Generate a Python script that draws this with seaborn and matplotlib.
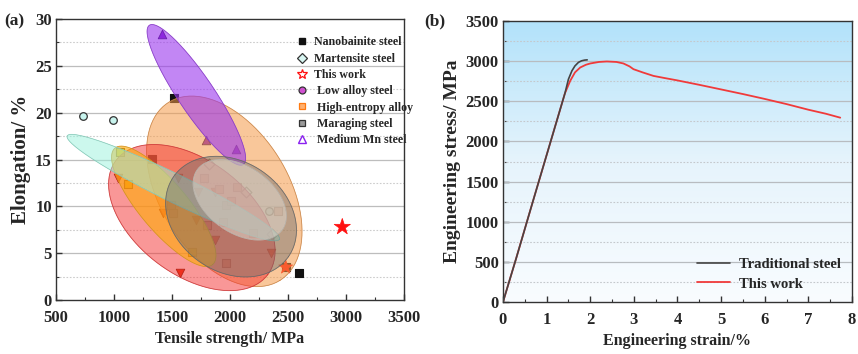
import numpy as np
import pandas as pd
import matplotlib
matplotlib.use("Agg")
import matplotlib.pyplot as plt
import seaborn as sns
from matplotlib.ticker import MultipleLocator
from matplotlib.lines import Line2D
from matplotlib.colors import LinearSegmentedColormap

sns.set_theme(style="white")
plt.rcParams['font.family'] = ['Liberation Serif', 'DejaVu Serif']
plt.rcParams['font.weight'] = 'bold'

# ---------------- data: panel (a) ----------------
nano_x = [1520, 1325, 2595, 2480]
nano_y = [21.6, 15.1, 2.9, 3.5]
mart_x = [1822, 2135, 2365]
mart_y = [14.5, 11.5, 7.0]
circ_x = [735, 989, 2339]
circ_y = [19.6, 19.2, 9.5]
hea_x = [1052, 1118, 1670]
hea_y = [15.8, 12.4, 5.1]
tri_x = [1032, 1569, 1425, 1707, 1871, 2356, 1549, 1727, 1871]
tri_y = [13.0, 2.9, 9.3, 8.5, 6.4, 5.0, 13.0, 11.5, 11.5]
mar_x = [1511, 1494, 1799, 1942, 1963, 2006, 1776, 1905, 2058, 2196, 2411, 1963]
mar_y = [9.3, 10.1, 8.0, 8.3, 10.1, 10.6, 13.0, 11.8, 12.1, 7.1, 9.5, 4.0]
mn_x = [1411, 1791, 2049]
mn_y = [28.4, 17.1, 16.1]
work_x = [2968, 2480]
work_y = [7.8, 3.5]

legend_labels = ["Nanobainite steel", "Martensite steel", "This work", " Low alloy steel",
                 " High-entropy alloy", " Maraging steel", " Medium Mn steel"]

# ellipses: centre (MPa, %), semi-axes (px), angle (deg, downward), colour, alpha
ell_cx = [1951, 1671, 1429, 1511, 1710, 2009, 2084]
ell_cy = [11.6, 8.8, 10.0, 12.0, 21.9, 8.9, 10.7]
ell_a = [105, 95, 76, 118, 84, 70, 52]
ell_b = [64, 57, 24, 14, 18, 55, 33]
ell_ang = [58, 37, 50, 26, 56, 35, 35]
ell_col = ['#f59a48', '#f53030', '#ffab10', '#9af2dc', '#9a35ee', '#6e6e6e', '#ddd6cc']
ell_alpha = [0.55, 0.5, 0.65, 0.5, 0.6, 0.45, 0.55]

# ---------------- data: panel (b) ----------------
trad_strain = [0.0, 0.3, 0.7, 1.0, 1.3, 1.42, 1.5, 1.58, 1.65, 1.73, 1.8, 1.87, 1.93]
trad_stress = [0, 540, 1280, 1830, 2380, 2600, 2775, 2880, 2941, 2985, 3004, 3013, 3016]
work_strain = [0.0, 0.3, 0.7, 1.0, 1.3, 1.42, 1.54, 1.65, 1.77, 1.9, 2.0, 2.2, 2.38, 2.6, 2.76,
               2.9, 2.99, 3.2, 3.45, 3.7, 3.98, 4.5, 4.98, 5.5, 5.97, 6.5, 7.0, 7.4, 7.73]
work_stress = [0, 540, 1280, 1830, 2380, 2600, 2754, 2860, 2921, 2955, 2971, 2990, 2996, 2990, 2971,
               2935, 2900, 2860, 2816, 2790, 2762, 2705, 2650, 2590, 2533, 2465, 2395, 2345, 2296]

W, H = 858, 354
fig = plt.figure(figsize=(W / 100, H / 100), dpi=100)
axa = fig.add_axes([56 / W, 1 - 300 / H, 348 / W, 281 / H])
axb = fig.add_axes([503 / W, 1 - 302 / H, 349 / W, 281 / H])

TF = dict(fontweight='bold', family=['Liberation Serif', 'DejaVu Serif'])

def style_axes(ax):
    for s in ax.spines.values():
        s.set_visible(True)
        s.set_color('#333333')
        s.set_linewidth(1.0)
    ax.tick_params(which='both', direction='in', color='#333333', labelsize=12, pad=3)
    ax.tick_params(axis='x', which='major', pad=7)
    ax.tick_params(which='major', length=4, width=1)
    ax.tick_params(which='minor', length=2, width=0.8)
    ax.tick_params(axis='both', which='both', top=False, right=False, bottom=True, left=True)
    for lab in ax.get_xticklabels() + ax.get_yticklabels():
        lab.set_fontweight('bold')
    ax.grid(False)

# ---------------- panel (a) ----------------
ax = axa
ax.set_xlim(500, 3500)
ax.set_ylim(0, 30)
ax.xaxis.set_major_locator(MultipleLocator(500))
ax.xaxis.set_minor_locator(MultipleLocator(250))
ax.yaxis.set_major_locator(MultipleLocator(5))
ax.yaxis.set_minor_locator(MultipleLocator(2.5))
for yv in np.arange(5, 30, 5):
    ax.axhline(yv, color='#bdbdbd', lw=0.9, zorder=0)
for yv in np.arange(2.5, 30, 5):
    ax.axhline(yv, color='#cccccc', lw=0.8, ls=(0, (1.5, 1.5)), zorder=0)

ms = 30
sns.scatterplot(x=nano_x, y=nano_y, marker='s', color='#111111', edgecolor='#111111', s=ms, ax=ax, zorder=2, linewidth=0.8)
sns.scatterplot(x=mart_x, y=mart_y, marker='D', color='#ffffff', edgecolor='#555555', s=ms, ax=ax, zorder=2, linewidth=0.9)
sns.scatterplot(x=circ_x, y=circ_y, marker='o', color='#c8f4ee', edgecolor='#333333', s=ms, ax=ax, zorder=2, linewidth=0.9)
sns.scatterplot(x=hea_x, y=hea_y, marker='s', color='#f4e000', edgecolor='#6b5a00', s=ms, ax=ax, zorder=2, linewidth=0.8)
sns.scatterplot(x=tri_x, y=tri_y, marker='v', color='#e8300c', edgecolor='#7a1a00', s=ms + 8, ax=ax, zorder=2, linewidth=0.6)
sns.scatterplot(x=mar_x, y=mar_y, marker='s', color='#e8a090', edgecolor='#8a5a50', s=ms, ax=ax, zorder=2, linewidth=0.8)
sns.scatterplot(x=mn_x, y=mn_y, marker='^', color='#7a10c8', edgecolor='#2a0050', s=ms + 8, ax=ax, zorder=2, linewidth=0.6)
sns.scatterplot(x=work_x, y=work_y, marker='*', color='#ff1010', edgecolor='#ff1010', s=[150, 110], ax=ax, zorder=2, linewidth=0.5)

# ellipses drawn in pixel space, converted to data units
fig.canvas.draw()
bb = ax.get_window_extent()
sx = (3500 - 500) / bb.width
sy = 30 / bb.height
t = np.linspace(0, 2 * np.pi, 200)
for i in range(len(ell_cx)):
    th = np.deg2rad(ell_ang[i])
    dxp = ell_a[i] * np.cos(t) * np.cos(th) - ell_b[i] * np.sin(t) * np.sin(th)
    dyp = ell_a[i] * np.cos(t) * np.sin(th) + ell_b[i] * np.sin(t) * np.cos(th)
    ex = ell_cx[i] + dxp * sx
    ey = ell_cy[i] - dyp * sy
    ax.fill(ex, ey, facecolor=ell_col[i], alpha=ell_alpha[i], edgecolor='none', zorder=3 + i * 0.1)
    ax.plot(ex, ey, color=ell_col[i], lw=0.6, alpha=0.9, zorder=3 + i * 0.1)
    ax.plot(ex, ey, color='#555555', lw=0.4, alpha=0.35, zorder=3 + i * 0.1)

handles = [
    Line2D([], [], ls='none', marker='s', ms=5, mfc='#111111', mec='#111111'),
    Line2D([], [], ls='none', marker='D', ms=5, mfc='#d8f6f2', mec='#333333', mew=0.9),
    Line2D([], [], ls='none', marker='*', ms=7, mfc='white', mec='#ff1010', mew=0.9),
    Line2D([], [], ls='none', marker='o', ms=5, mfc='#d050d0', mec='#333333', mew=0.9),
    Line2D([], [], ls='none', marker='s', ms=5, mfc='#ffb070', mec='#ff7a10', mew=0.9),
    Line2D([], [], ls='none', marker='s', ms=5, mfc='#9a9a9a', mec='#333333', mew=0.9),
    Line2D([], [], ls='none', marker='^', ms=6, mfc='white', mec='#8a20f0', mew=1.0),
]
leg = ax.legend(handles, legend_labels, loc='upper left', bbox_to_anchor=(0.675, 0.955),
                frameon=False, handlelength=1.0, handletextpad=0.55, labelspacing=0.36,
                borderaxespad=0, prop=dict(family=['Liberation Serif'], weight='bold', size=8.6))
leg.set_zorder(10)

style_axes(ax)
ax.set_xlabel('Tensile strength/ MPa', fontsize=11.5, labelpad=4, **TF)
ax.set_ylabel('Elongation/ %', fontsize=15, labelpad=3, **TF)
fig.text(4 / W, 1 - 25 / H, '(a)', fontsize=12.5, **TF)

# ---------------- panel (b) ----------------
ax = axb
ax.set_xlim(0, 8)
ax.set_ylim(0, 3500)
ax.xaxis.set_major_locator(MultipleLocator(1))
ax.xaxis.set_minor_locator(MultipleLocator(0.5))
ax.yaxis.set_major_locator(MultipleLocator(500))
ax.yaxis.set_minor_locator(MultipleLocator(250))
grad = np.linspace(1, 0, 256).reshape(-1, 1)
cmap = LinearSegmentedColormap.from_list('bg', ['#f9fcff', '#e6f4fc', '#b2e2fa'])
ax.imshow(grad, cmap=cmap, extent=[0, 8, 0, 3500], aspect='auto', zorder=0,
          origin='upper', vmin=0, vmax=1)
for yv in np.arange(500, 3500, 500):
    ax.axhline(yv, color='#b8bcc0', lw=0.9, zorder=1)
for yv in np.arange(250, 3500, 500):
    ax.axhline(yv, color='#c4c8cc', lw=0.8, ls=(0, (1.5, 1.5)), zorder=1)

df_t = pd.DataFrame({'strain': trad_strain, 'stress': trad_stress})
df_w = pd.DataFrame({'strain': work_strain, 'stress': work_stress})
sns.lineplot(data=df_t, x='strain', y='stress', color='#444444', lw=1.2, ax=ax, zorder=3,
             sort=False, label='Traditional steel')
sns.lineplot(data=df_w, x='strain', y='stress', color='#f03a3a', lw=1.3, ax=ax, zorder=2,
             sort=False, label='This work')
ax.legend(loc='lower right', bbox_to_anchor=(0.985, 0.02), frameon=False, handlelength=2.3,
          handletextpad=0.6, labelspacing=0.45, borderaxespad=0,
          prop=dict(family=['Liberation Serif'], weight='bold', size=10.5))

style_axes(ax)
ax.set_xlabel('Engineering strain/%', fontsize=11.5, labelpad=4, **TF)
ax.set_ylabel('Engineering stress/ MPa', fontsize=14, labelpad=3, **TF)
fig.text(424 / W, 1 - 25 / H, '(b)', fontsize=12.5, **TF)

fig.savefig('out.png', dpi=100)
